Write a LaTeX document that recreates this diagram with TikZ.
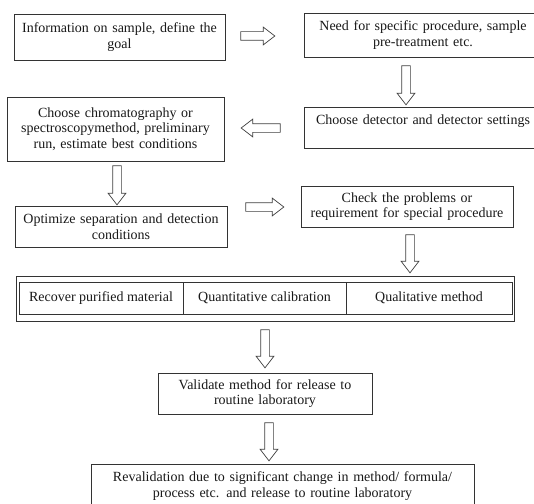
\documentclass[tikz,border=0pt]{standalone}
\usepackage{fontspec}
\setmainfont{Liberation Serif}
\usetikzlibrary{shapes.arrows}
\begin{document}
\begin{tikzpicture}[x=1pt,y=-1pt,
  box/.style={draw=black!80, line width=0.8pt, align=center, inner sep=0pt,
    font=\fontsize{14}{15.5}\selectfont, text=black!90},
  cell/.style={box},
  barrow/.style={single arrow, draw=black!75, line width=0.7pt, fill=white,
    inner xsep=0pt, inner ysep=4pt, minimum width=0pt,
    single arrow head extend=4.5pt, single arrow tip angle=75}
]
\useasboundingbox (0,0) rectangle (534,503);
\clip (0,0) rectangle (534,503);
\fill[white] (0,0) rectangle (534,503);

\node[box, minimum width=211pt, minimum height=46pt, text width=205pt] (b1) at (119.5,37)
  {Information on sample, define the\\goal};
\node[box, minimum width=238pt, minimum height=44pt, text width=232pt] (b2) at (423,35)
  {Need for specific procedure, sample\\pre-treatment etc.};
\node[box, minimum width=238pt, minimum height=41pt, text width=232pt] (b4) at (423,127.5)
  {Choose detector and detector settings\\\mbox{}};
\node[box, minimum width=217pt, minimum height=64pt, text width=211pt] (b3) at (115.5,129)
  {Choose chromatography or\\spectroscopymethod, preliminary\\run, estimate best conditions};
\node[box, minimum width=212pt, minimum height=41pt, text width=206pt] (b5) at (121,226.5)
  {Optimize separation and detection\\conditions};
\node[box, minimum width=212pt, minimum height=41pt, text width=206pt] (b6) at (407,206.5)
  {Check the problems or\\requirement for special procedure};

\node[box, minimum width=498pt, minimum height=45pt] (outer) at (265,298.5) {};
\node[cell, minimum width=164pt, minimum height=32pt] (c1) at (101,298) {Recover purified material};
\node[cell, minimum width=163pt, minimum height=32pt] (c2) at (264.5,298) {Quantitative calibration};
\node[cell, minimum width=166pt, minimum height=32pt] (c3) at (429,298) {Qualitative method};

\node[box, minimum width=214pt, minimum height=41pt, text width=208pt] (val) at (265,393.5)
  {Validate method for release to\\routine laboratory};
\node[box, minimum width=383pt, minimum height=44pt, text width=377pt] (rev) at (282.5,486)
  {Revalidation due to significant change in method/ formula/\\process etc. and release to routine laboratory};

\node[barrow, minimum height=34pt] (a1) at (255,36) {};
\node[barrow, minimum height=39pt, rotate=-90] (a2) at (406,82.5) {};
\node[barrow, minimum height=39pt, rotate=180] (a3) at (263.5,128) {};
\node[barrow, minimum height=39pt, rotate=-90] (a4) at (117,182.5) {};
\node[barrow, minimum height=38pt] (a5) at (262,207) {};
\node[barrow, minimum height=38pt, rotate=-90] (a6) at (410,251) {};
\node[barrow, minimum height=38pt, rotate=-90] (a7) at (265,346) {};
\node[barrow, minimum height=38pt, rotate=-90] (a8) at (269,439) {};
\end{tikzpicture}
\end{document}
